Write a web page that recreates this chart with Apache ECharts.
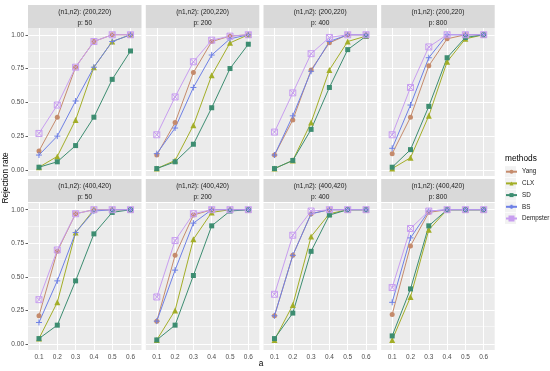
<!DOCTYPE html>
<html>
<head>
<meta charset="utf-8">
<script src="https://cdn.jsdelivr.net/npm/echarts@6/dist/echarts.min.js"></script>
<style>html,body{margin:0;padding:0;background:#fff;}#c{width:550px;height:371px;}</style>
</head>
<body>
<div id="c"></div>
<script>
// ---- data ----
const categories = [0.1, 0.2, 0.3, 0.4, 0.5, 0.6];
const xTickLabels = ['0.1', '0.2', '0.3', '0.4', '0.5', '0.6'];
const yTicks = [0, 0.25, 0.5, 0.75, 1];
const yTickLabels = ['0.00', '0.25', '0.50', '0.75', '1.00'];
const yMinorTicks = [0.125, 0.375, 0.625, 0.875];
const methods = ['Yang', 'CLX', 'SD', 'BS', 'Dempster'];
const sampleSizes = ['(n1,n2): (200,220)', '(n1,n2): (400,420)'];
const dims = ['p: 50', 'p: 200', 'p: 400', 'p: 800'];

// rows: p = 50, 200, 400, 800 ; (n1,n2) = (200,220)
const yang200 = [
  [0.14, 0.39, 0.76, 0.95, 1.00, 1.00],
  [0.11, 0.35, 0.72, 0.95, 0.99, 1.00],
  [0.11, 0.37, 0.74, 0.94, 1.00, 1.00],
  [0.12, 0.39, 0.77, 0.97, 1.00, 1.00]
];
const clx200 = [
  [0.02, 0.10, 0.37, 0.76, 0.95, 1.00],
  [0.01, 0.07, 0.33, 0.70, 0.94, 1.00],
  [0.01, 0.07, 0.35, 0.74, 0.95, 0.99],
  [0.01, 0.09, 0.40, 0.80, 0.97, 1.00]
];
const sd200 = [
  [0.02, 0.06, 0.18, 0.39, 0.67, 0.88],
  [0.01, 0.06, 0.19, 0.46, 0.75, 0.93],
  [0.01, 0.07, 0.30, 0.61, 0.89, 0.99],
  [0.02, 0.15, 0.47, 0.83, 0.98, 1.00]
];
const bs200 = [
  [0.11, 0.25, 0.51, 0.76, 0.95, 1.00],
  [0.12, 0.31, 0.61, 0.85, 0.97, 1.00],
  [0.11, 0.40, 0.73, 0.95, 1.00, 1.00],
  [0.16, 0.48, 0.83, 1.00, 1.00, 1.00]
];
const dempster200 = [
  [0.27, 0.48, 0.76, 0.95, 1.00, 1.00],
  [0.26, 0.54, 0.80, 0.96, 0.99, 1.00],
  [0.28, 0.57, 0.86, 0.98, 1.00, 1.00],
  [0.26, 0.61, 0.91, 1.00, 1.00, 1.00]
];
// (n1,n2) = (400,420)
const yang400 = [
  [0.21, 0.69, 0.97, 1.00, 1.00, 1.00],
  [0.17, 0.66, 0.96, 1.00, 1.00, 1.00],
  [0.21, 0.66, 0.97, 1.00, 1.00, 1.00],
  [0.22, 0.73, 0.98, 1.00, 1.00, 1.00]
];
const clx400 = [
  [0.04, 0.31, 0.83, 1.00, 1.00, 1.00],
  [0.03, 0.25, 0.78, 0.98, 1.00, 1.00],
  [0.03, 0.29, 0.80, 0.97, 1.00, 1.00],
  [0.03, 0.35, 0.85, 1.00, 1.00, 1.00]
];
const sd400 = [
  [0.04, 0.14, 0.47, 0.82, 0.98, 1.00],
  [0.03, 0.14, 0.51, 0.88, 0.99, 1.00],
  [0.04, 0.23, 0.69, 0.96, 1.00, 1.00],
  [0.06, 0.41, 0.88, 1.00, 1.00, 1.00]
];
const bs400 = [
  [0.16, 0.47, 0.83, 0.99, 1.00, 1.00],
  [0.17, 0.55, 0.90, 1.00, 1.00, 1.00],
  [0.21, 0.66, 0.97, 1.00, 1.00, 1.00],
  [0.31, 0.79, 0.99, 1.00, 1.00, 1.00]
];
const dempster400 = [
  [0.33, 0.70, 0.97, 1.00, 1.00, 1.00],
  [0.35, 0.77, 0.97, 1.00, 1.00, 1.00],
  [0.37, 0.81, 0.99, 1.00, 1.00, 1.00],
  [0.42, 0.86, 0.99, 1.00, 1.00, 1.00]
];

// ---- styling ----
const colors = {Yang: '#C58B6C', CLX: '#A3AE27', SD: '#3D8D71', BS: '#6E80E6', Dempster: '#C89EF0'};
const symbols = {
  Yang: 'circle',
  CLX: 'triangle',
  SD: 'rect',
  BS: 'path://M5,0L5,10M0,5L10,5',
  Dempster: 'path://M0,0L10,0L10,10L0,10ZM0,0L10,10M10,0L0,10'
};
const symSize = {Yang: 5, CLX: 6, SD: 5, BS: 6, Dempster: 6};
const FONT = 'Liberation Sans, Arial, sans-serif';

const colLeft = [28, 145.8, 263.5, 381.2];
const panelW = 113.5;
const stripTop = [5, 179];
const stripH = 23;
const plotTop = [28, 203];
const plotH = [148, 147];

const dataByRow = [
  {Yang: yang200, CLX: clx200, SD: sd200, BS: bs200, Dempster: dempster200},
  {Yang: yang400, CLX: clx400, SD: sd400, BS: bs400, Dempster: dempster400}
];

const grids = [], xAxes = [], yAxes = [], series = [], graphics = [];

function nearestIdx(arr, v) {
  let b = 0;
  for (let i = 1; i < arr.length; i++) if (Math.abs(arr[i] - v) < Math.abs(arr[b] - v)) b = i;
  return b;
}

for (let r = 0; r < 2; r++) {
  for (let c = 0; c < 4; c++) {
    const gi = r * 4 + c;
    grids.push({
      left: colLeft[c], top: plotTop[r], width: panelW, height: plotH[r],
      show: true, backgroundColor: '#EBEBEB', borderWidth: 0
    });
    const bottom = r === 1, leftCol = c === 0;
    xAxes.push({
      gridIndex: gi, type: 'value', min: 0.04, max: 0.66,
      axisLine: {show: false}, splitLine: {show: false},
      axisTick: {show: bottom, length: 2.5, customValues: categories, lineStyle: {color: '#333333', width: 0.8}},
      axisLabel: {show: bottom, customValues: categories, fontSize: 6.5, color: '#4D4D4D', margin: 4, fontFamily: FONT,
        formatter: v => xTickLabels[nearestIdx(categories, v)]}
    });
    yAxes.push({
      gridIndex: gi, type: 'value', min: -0.045, max: 1.05,
      axisLine: {show: false}, splitLine: {show: false},
      axisTick: {show: leftCol, length: 2.5, customValues: yTicks, lineStyle: {color: '#333333', width: 0.8}},
      axisLabel: {show: leftCol, customValues: yTicks, fontSize: 6.5, color: '#4D4D4D', margin: 4, fontFamily: FONT,
        formatter: v => yTickLabels[nearestIdx(yTicks, v)]}
    });
    // gridlines (behind data)
    const mlData = [];
    yMinorTicks.forEach(v => mlData.push({yAxis: v, lineStyle: {color: '#FFFFFF', width: 0.5, type: 'solid'}}));
    yTicks.forEach(v => mlData.push({yAxis: v, lineStyle: {color: '#FFFFFF', width: 1, type: 'solid'}}));
    categories.forEach(v => mlData.push({xAxis: v, lineStyle: {color: '#FFFFFF', width: 1, type: 'solid'}}));
    series.push({
      type: 'line', name: '_grid' + gi, xAxisIndex: gi, yAxisIndex: gi, data: [],
      silent: true, z: 1,
      markLine: {silent: true, z: 1, animation: false, symbol: ['none', 'none'], label: {show: false},
        emphasis: {disabled: true}, data: mlData}
    });
    methods.forEach(m => {
      const vals = dataByRow[r][m][c];
      const isOpen = m === 'Dempster';
      const isStroke = m === 'BS' || m === 'Dempster';
      series.push({
        type: 'line', name: m, xAxisIndex: gi, yAxisIndex: gi, z: 3,
        data: categories.map((x, i) => [x, vals[i]]),
        symbol: symbols[m], symbolSize: symSize[m], showSymbol: true,
        lineStyle: {color: colors[m], width: 1},
        itemStyle: {color: isOpen ? 'rgba(0,0,0,0)' : colors[m], borderColor: colors[m], borderWidth: isStroke ? 1 : 0},
        emphasis: {disabled: true}, animation: false
      });
    });
    // strip
    graphics.push({type: 'rect', silent: true, shape: {x: colLeft[c], y: stripTop[r], width: panelW, height: stripH},
      style: {fill: '#D9D9D9'}});
    graphics.push({type: 'text', silent: true, x: colLeft[c] + panelW / 2, y: stripTop[r] + 6.7,
      style: {text: sampleSizes[r], fill: '#1A1A1A', font: '6.6px ' + FONT, textAlign: 'center', textVerticalAlign: 'middle'}});
    graphics.push({type: 'text', silent: true, x: colLeft[c] + panelW / 2, y: stripTop[r] + 18.3,
      style: {text: dims[c], fill: '#1A1A1A', font: '6.6px ' + FONT, textAlign: 'center', textVerticalAlign: 'middle'}});
  }
}

// axis titles & legend title
graphics.push({type: 'text', silent: true, x: 6, y: 178, rotation: Math.PI / 2,
  style: {text: 'Rejection rate', fill: '#000000', font: '8.3px ' + FONT, textAlign: 'center', textVerticalAlign: 'middle'}});
graphics.push({type: 'text', silent: true, x: 261, y: 364,
  style: {text: 'a', fill: '#000000', font: '8.3px ' + FONT, textAlign: 'center', textVerticalAlign: 'middle'}});
graphics.push({type: 'text', silent: true, x: 505, y: 159,
  style: {text: 'methods', fill: '#000000', font: '8.3px ' + FONT, textAlign: 'left', textVerticalAlign: 'middle'}});
// legend key backgrounds
methods.forEach((m, i) => {
  graphics.push({type: 'rect', silent: true, z: -1, shape: {x: 505, y: 166.2 + i * 11.7, width: 11, height: 11},
    style: {fill: '#F2F2F2'}});
});

const chart = echarts.init(document.getElementById('c'), null, {renderer: 'canvas'});
chart.setOption({
  animation: false,
  backgroundColor: '#FFFFFF',
  grid: grids,
  xAxis: xAxes,
  yAxis: yAxes,
  series: series,
  legend: {
    data: methods, orient: 'vertical', left: 505, top: 167.7, padding: 0,
    itemWidth: 11, itemHeight: 5, itemGap: 3.7,
    textStyle: {fontSize: 6.3, lineHeight: 8, color: '#1A1A1A', fontFamily: FONT},
    selectedMode: false
  },
  graphic: {elements: graphics}
});
</script>
</body>
</html>
